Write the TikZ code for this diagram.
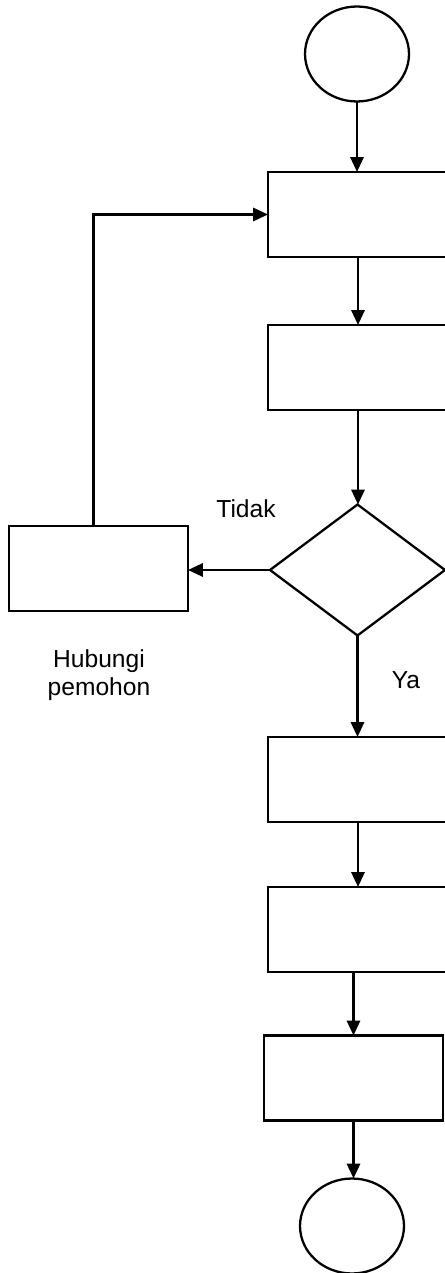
\documentclass[tikz,border=0pt]{standalone}
\usepackage{fontspec}
\setmainfont{Liberation Sans}
\usetikzlibrary{shapes.geometric,arrows.meta}
\tikzset{
    box/.style = {
        draw, rectangle,
        outer sep=0,
        inner sep=0,
        minimum width={3.6cm},
        minimum height={1.7cm}
    },
    term/.style = {
        draw, ellipse,
        outer sep=0,
        inner sep=0,
        minimum width={2.08cm},
        minimum height={1.9cm}
    },
    cond/.style = {
        draw, diamond,
        outer sep=0,
        inner sep=0,
        minimum width={3.5cm},
        minimum height={2.62cm}
    },
    anno/.style = {
        align=center,
        font=\fontsize{14}{16}\selectfont
    },
    arr/.style = {
        line width=1.5pt,
        -{Triangle[length=8.5pt,width=7.5pt]}
    }
}

\begin{document}
\begin{tikzpicture}[x=0.02cm,y=-0.02cm,line width=1.3pt]

% 1. page frame
\useasboundingbox (0,0) rectangle (445,1273);

% 2. shapes
\node[term] (start) at (357,54)     {};
\node[box]  (box1)  at (358,214.5)  {};
\node[box]  (box2)  at (358,367.5)  {};
\node[cond] (dec)   at (357.5,570)  {};
\node[box,minimum width=3.58cm] (hub) at (98.5,568.5) {};
\node[box]  (box3)  at (358,779.5)  {};
\node[box]  (box4)  at (358,929.5)  {};
\node[box,minimum width=3.58cm] (box5) at (353.5,1078) {};
\node[term] (stop)  at (352,1226)   {};

% 3. arrows
\draw[arr] (start) -- (start |- box1.north);
\draw[arr] (box1)  -- (box1 |- box2.north);
\draw[arr] (box2)  -- (box2 |- dec.north);
\draw[arr] (dec)   -- (dec |- box3.north);
\draw[arr] (box3)  -- (box3 |- box4.north);
\draw[arr] (box4.south -| box5) -- (box5.north);
\draw[arr] (box5)  -- (box5 |- stop.north);
\draw[arr] (dec.west) -- (dec.west -| hub.east);
\draw[arr] ([xshift=-0.1cm]hub.north) |- (box1.west);

% 4. labels
\node[anno] (tidak) at (246,509) {Tidak};
\node[anno] (ya)    at (406,680) {Ya};
\node[anno] (hubungi) at (99,675) {Hubungi\\pemohon};

\end{tikzpicture}
\end{document}
